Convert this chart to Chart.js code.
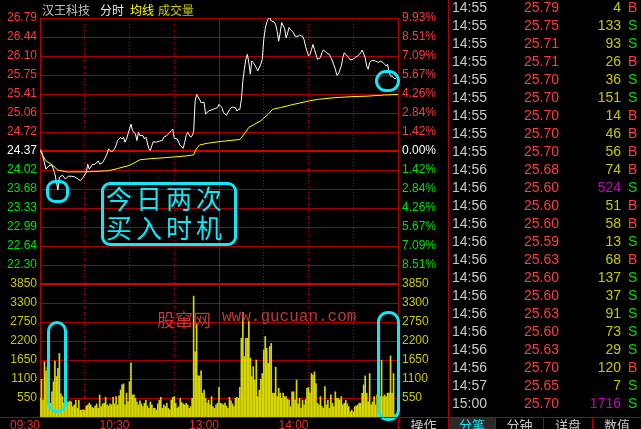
<!DOCTYPE html>
<html>
<head>
<meta charset="utf-8">
<script src="https://cdn.jsdelivr.net/npm/chart.js@4/dist/chart.umd.min.js"></script>
<style>
  body { margin:0; background:#000; width:641px; height:429px; overflow:hidden; position:relative;
         font-family:"Liberation Sans", Arial, sans-serif; }
  #box { position:absolute; left:0; top:0; width:445px; height:429px; }
  .ab { position:absolute; white-space:nowrap; }
  .cy { position:absolute; border:3px solid #10E8F8; box-sizing:border-box; }
  .row { position:absolute; left:449px; width:192px; height:18px; line-height:18px; font-size:14px; }
  .row span { position:absolute; top:0; }
  .tab { position:absolute; top:418px; height:11px; line-height:13px; font-size:13px; text-align:center;
         font-family:"Noto Sans CJK SC", sans-serif; color:#C8C8C8; overflow:hidden; }
</style>
</head>
<body>
<div id="box"><canvas id="c" width="445" height="429"></canvas></div>

<!-- header -->
<div class="ab" style="left:42px;top:1px;font:12px 'Noto Sans CJK SC';color:#C0C0C0">汉王科技</div>
<div class="ab" style="left:100px;top:1px;font:12px 'Noto Sans CJK SC';color:#E8E8E8">分时</div>
<div class="ab" style="left:130px;top:1px;font:12px 'Noto Sans CJK SC';color:#FFFF00">均线</div>
<div class="ab" style="left:158px;top:1px;font:12px 'Noto Sans CJK SC';color:#C8C800">成交量</div>

<!-- watermark -->
<div class="ab" style="left:157px;top:306px;font:18px 'Noto Sans CJK SC';color:#C03838">股窜网</div>
<div class="ab" style="left:222px;top:308px;font:16px 'Liberation Mono';color:#C03838">www.gucuan.com</div>

<!-- annotations -->
<div class="cy" style="left:46px;top:180px;width:23px;height:23px;border-radius:9px"></div>
<div class="cy" style="left:101px;top:182px;width:136px;height:64px;border-radius:9px"></div>
<div class="ab" style="left:106px;top:183px;font:26px 'Noto Sans CJK SC';color:#10E8F8;letter-spacing:4px;line-height:29px">今日两次<br>买入时机</div>
<div class="cy" style="left:375px;top:70px;width:25px;height:22px;border-radius:11px"></div>
<div class="cy" style="left:47px;top:321px;width:20px;height:92px;border-radius:10px"></div>
<div class="cy" style="left:377px;top:311px;width:23px;height:110px;border-radius:11px"></div>

<!-- frame lines -->
<div class="ab" style="left:448px;top:0;width:1px;height:429px;background:#B00000"></div>
<div class="ab" style="left:0;top:417px;width:641px;height:1px;background:#B00000"></div>
<div class="ab" style="left:398px;top:417px;width:1px;height:12px;background:#B00000"></div>
<div class="ab" style="left:495px;top:417px;width:1px;height:12px;background:#B00000"></div>
<div class="ab" style="left:543px;top:417px;width:1px;height:12px;background:#B00000"></div>
<div class="ab" style="left:592px;top:417px;width:1px;height:12px;background:#B00000"></div>

<div class="tab" style="left:399px;width:49px">操作</div>
<div class="tab" style="left:449px;width:46px;background:#2A2A2A;color:#10E8F8">分笔</div>
<div class="tab" style="left:496px;width:47px">分钟</div>
<div class="tab" style="left:544px;width:48px">详盘</div>
<div class="tab" style="left:593px;width:48px">数值</div>

<div id="tbl"></div>

<script>
// price scale: previous close and one grid step
const prevClose = 24.37;
const step = 0.3461;

const leftLabels = ['26.79','26.44','26.10','25.75','25.41','25.06','24.72','24.37','24.02','23.68','23.33','22.99','22.64','22.30',
                    '3850','3300','2750','2200','1650','1100','550',''];
const rightLabels = ['9.93%','8.51%','7.09%','5.67%','4.26%','2.84%','1.42%','0.00%','1.42%','2.84%','4.26%','5.67%','7.09%','8.51%',
                     '3850','3300','2750','2200','1650','1100','550',''];
const timeTicks = [0, 60, 120, 180];
const timeText = ['09:30', '10:30', '13:00', '14:00'];

// minute index -> price
const priceMin = [0,1,4,6,8,10,12,13,15,17,
  19,21,23,25,27,29,31,32,33,35,
  37,39,40,42,44,45,46,47,48,50,
  51,52,54,55,56,57,58,60,61,62,
  64,65,66,67,69,70,71,73,74,75,
  76,78,80,82,83,85,87,88,89,90,
  92,93,94,96,97,98,99,101,102,103,
  104,105,107,108,110,111,113,115,117,119,
  120,122,123,125,126,128,129,131,132,133,
  134,135,136,137,138,139,140,141,142,143,
  145,146,148,149,150,151,152,153,154,155,
  157,158,159,160,161,162,164,165,166,167,
  168,170,171,173,174,176,177,178,179,180,
  181,182,183,184,185,186,188,189,190,191,
  192,194,195,196,198,199,200,202,203,204,
  205,206,207,208,210,211,213,215,216,218,
  219,220,221,222,223,225,227,228,230,231,
  232,233,234,235,237,238,239,240];
const priceVal = [24.40,24.37,24.04,24.10,24.12,23.95,23.66,23.89,23.93,23.86,
  23.91,23.91,23.90,23.87,23.83,23.89,23.98,24.13,24.04,24.12,
  24.13,24.19,24.13,24.16,24.26,24.32,24.41,24.38,24.35,24.41,
  24.47,24.56,24.62,24.59,24.62,24.53,24.59,24.77,24.86,24.74,
  24.68,24.56,24.71,24.65,24.65,24.59,24.62,24.41,24.38,24.47,
  24.54,24.53,24.55,24.56,24.62,24.65,24.71,24.74,24.77,24.60,
  24.59,24.53,24.47,24.42,24.53,24.65,24.71,24.62,24.65,24.72,
  25.28,25.40,25.31,25.25,25.26,25.04,25.10,25.12,25.14,25.16,
  25.22,25.16,25.07,25.02,25.07,25.16,25.17,25.16,25.10,25.13,
  25.13,25.31,25.65,25.86,26.04,26.13,25.98,25.77,26.01,25.98,
  25.89,25.83,25.95,26.04,26.40,26.60,26.71,26.78,26.80,26.74,
  26.72,26.67,26.55,26.37,26.52,26.71,26.60,26.43,26.52,26.62,
  26.58,26.52,26.46,26.46,26.48,26.46,26.40,26.28,26.19,26.10,
  26.13,26.22,26.31,26.22,26.13,26.04,26.07,26.16,26.21,26.19,
  26.16,26.13,26.07,26.01,25.86,25.75,25.77,25.92,26.07,26.16,
  26.13,26.10,26.07,26.03,26.04,26.07,26.10,26.16,26.21,26.07,
  25.92,25.86,25.98,26.01,26.02,26.01,25.98,26.01,25.98,25.95,
  25.92,25.95,25.80,25.74,25.71,25.68,25.71,25.70];

// average price line
const avgMin = [0,2,4,8,12,18,25,31,39,46,52,59,63,67,74,80,89,98,103,105,107,112,120,
  134,137,140,144,148,153,156,161,167,175,180,186,197,209,220,231,240];
const avgVal = [24.38,24.28,24.19,24.12,24.02,23.99,23.99,23.99,24.00,24.01,24.05,24.10,24.15,24.21,24.23,24.24,24.26,24.28,24.30,24.42,24.48,24.51,24.54,
  24.58,24.68,24.80,24.86,24.92,25.04,25.13,25.16,25.20,25.25,25.28,25.31,25.34,25.36,25.37,25.39,25.40];

// volume per minute (hands)
const volume = [
  550,1090,490,1600,1340,1440,300,400,730,1020,
  1620,1170,1410,1840,670,590,400,450,440,430,
  460,440,300,350,490,250,490,200,200,210,
  200,320,350,400,350,280,250,320,380,250,
  640,300,380,400,570,350,320,380,350,580,
  380,590,350,610,780,930,960,350,690,440,
  1020,1570,640,640,540,440,350,470,380,300,
  400,490,320,250,440,350,250,250,200,380,
  490,570,250,350,300,400,250,200,490,570,
  590,400,250,300,540,420,380,350,400,350,
  250,300,540,3500,1890,2700,1190,1190,1340,690,
  780,540,400,490,350,590,300,250,350,400,
  860,400,380,350,400,320,250,570,470,380,
  300,540,570,540,860,2280,3030,1750,2280,2280,
  2760,1700,1170,1460,1070,1650,590,780,1090,1260,
  1940,2330,1990,1550,2040,2130,690,690,1440,590,
  830,690,540,690,590,590,510,490,300,730,
  730,490,1070,380,540,250,490,350,500,830,
  860,690,1260,1210,1310,970,400,350,590,300,
  250,880,350,490,250,640,400,300,730,540,
  540,490,590,350,400,490,380,300,150,200,
  150,300,320,350,400,400,690,930,1190,690,
  440,1260,350,440,590,350,640,640,590,1650,
  590,640,590,690,690,1770,690,1260,60,100];

// tick table on the right
const tTime = ['14:55','14:55','14:55','14:55','14:55','14:55','14:55','14:55','14:55','14:56','14:56','14:56',
               '14:56','14:56','14:56','14:56','14:56','14:56','14:56','14:56','14:56','14:57','15:00'];
const tPrice = ['25.79','25.75','25.71','25.71','25.70','25.70','25.70','25.70','25.70','25.68','25.60','25.60',
                '25.60','25.59','25.63','25.60','25.60','25.63','25.60','25.63','25.70','25.65','25.70'];
const tVol = [4,133,93,26,36,151,14,46,56,74,524,51,58,13,68,137,37,91,73,29,120,7,1716];
const tSide = ['B','S','S','B','S','S','B','B','B','B','S','B','B','S','B','S','S','S','S','S','B','S','S'];

const tbl = document.getElementById('tbl');
tTime.forEach((t, k) => {
  const r = document.createElement('div');
  r.className = 'row';
  r.style.top = (18 * k - 2) + 'px';
  const big = tVol[k] >= 500;
  r.innerHTML =
    '<span style="left:3px;color:#C8C8C8">' + t + '</span>' +
    '<span style="left:75px;color:#FF3C3C">' + tPrice[k] + '</span>' +
    '<span style="right:20px;color:' + (big ? '#C800C8' : '#C8C800') + '">' + tVol[k] + '</span>' +
    '<span style="left:179px;color:' + (tSide[k] === 'B' ? '#FF3C3C' : '#00E000') + '">' + tSide[k] + '</span>';
  tbl.appendChild(r);
});

function rowColor(i) {
  if (i < 7) return '#FF3C3C';
  if (i === 7) return '#FFFFFF';
  if (i < 14) return '#00E000';
  return '#C8C800';
}

const frame = {
  id: 'frame',
  beforeDatasetsDraw(chart) {
    const { ctx, chartArea: a, scales: { x } } = chart;
    ctx.save();
    ctx.strokeStyle = '#B00000';
    ctx.lineWidth = 1;
    [0, 120, 240].forEach(v => {
      const px = Math.round(x.getPixelForValue(v)) + 0.5;
      ctx.beginPath();
      ctx.moveTo(px, a.top);
      ctx.lineTo(px, a.bottom);
      ctx.stroke();
    });
    ctx.restore();
  }
};

new Chart(document.getElementById('c'), {
  type: 'bar',
  data: {
    datasets: [
      { type: 'line', data: priceMin.map((m, i) => ({ x: m, y: priceVal[i] })), yAxisID: 'yP',
        borderColor: '#FFFFFF', borderWidth: 1, pointRadius: 0, tension: 0 },
      { type: 'line', data: avgMin.map((m, i) => ({ x: m, y: avgVal[i] })), yAxisID: 'yP',
        borderColor: '#FFFF00', borderWidth: 1, pointRadius: 0, tension: 0 },
      { type: 'bar', data: volume.map((v, i) => ({ x: i, y: v })), yAxisID: 'yV',
        backgroundColor: '#D8D800', barThickness: 1 }
    ]
  },
  options: {
    responsive: false,
    animation: false,
    layout: { padding: { top: 18, left: 0, right: 0, bottom: 0 } },
    plugins: { legend: { display: false }, tooltip: { enabled: false } },
    scales: {
      x: {
        type: 'linear', min: 0, max: 240, offset: false,
        afterBuildTicks: s => { s.ticks = [0, 30, 60, 90, 120, 150, 180, 210, 240].map(v => ({ value: v })); },
        afterFit: s => { s.height = 12; s.paddingLeft = 0; s.paddingRight = 0; },
        ticks: { autoSkip: false, maxRotation: 0, align: 'end', padding: 1, color: '#E83030',
                 font: { size: 12, family: 'Liberation Sans' },
                 callback: v => { const k = timeTicks.indexOf(v); return k < 0 ? '' : timeText[k]; } },
        grid: { drawTicks: false, offset: false,
                color: c => (c.tick && [30, 60, 90, 150, 180, 210].includes(c.tick.value)) ? '#C00000' : 'rgba(0,0,0,0)' },
        border: { display: false, dash: [1, 2] }
      },
      yL: {
        type: 'linear', position: 'left', min: 0, max: 21, reverse: true,
        afterBuildTicks: s => { s.ticks = leftLabels.map((_, i) => ({ value: i })); },
        afterFit: s => { s.width = 40; s.paddingTop = 0; s.paddingBottom = 0; },
        ticks: { autoSkip: false, padding: 3, font: { size: 12, family: 'Liberation Sans' },
                 color: c => rowColor(c.index), callback: (v, i) => leftLabels[i] },
        grid: { drawTicks: false,
                color: c => (c.index === 7 || c.index === 14) ? '#D00000' : '#A80000',
                lineWidth: c => (c.index === 7 || c.index === 14) ? 2 : 1 },
        border: { display: false }
      },
      yR: {
        type: 'linear', position: 'right', min: 0, max: 21, reverse: true,
        afterBuildTicks: s => { s.ticks = rightLabels.map((_, i) => ({ value: i })); },
        afterFit: s => { s.width = 47; s.paddingTop = 0; s.paddingBottom = 0; },
        ticks: { autoSkip: false, padding: 4, font: { size: 12, family: 'Liberation Sans' },
                 color: c => rowColor(c.index), callback: (v, i) => rightLabels[i] },
        grid: { drawTicks: false, drawOnChartArea: false },
        border: { display: false }
      },
      yP: { type: 'linear', display: false, min: prevClose - 14 * step, max: prevClose + 7 * step },
      yV: { type: 'linear', display: false, min: 0, max: 11550 }
    }
  },
  plugins: [frame]
});
</script>
</body>
</html>
